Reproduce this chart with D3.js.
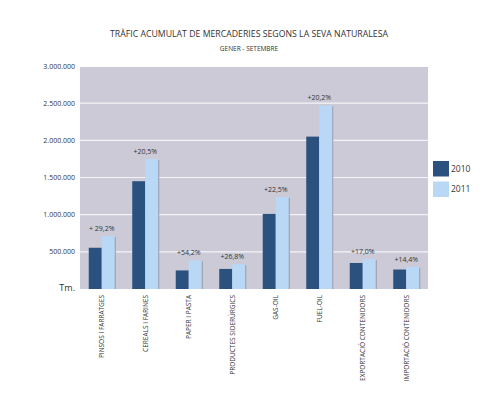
<!DOCTYPE html>
<html>
<head>
<meta charset="utf-8">
<script src="https://cdn.jsdelivr.net/npm/d3@7"></script>
<style>
  body { margin: 0; background: #fff; }
  text { font-family: "Open Sans", "DejaVu Sans", sans-serif; fill: #333; }
</style>
</head>
<body>
<div id="chart"></div>
<script>
var categories = ["PINSOS I FARRATGES", "CEREALS I FARINES", "PAPER I PASTA", "PRODUCTES SIDERÚRGICS",
  "GAS-OIL", "FUEL-OIL", "EXPORTACIÓ CONTENIDORS", "IMPORTACIÓ CONTENIDORS"];
var values2010 = [555000, 1450000, 250000, 270000, 1010000, 2050000, 350000, 262000];
var values2011 = [712000, 1748000, 385000, 333000, 1238000, 2470000, 402000, 298000];
var changes = ["+ 29,2%", "+20,5%", "+54,2%", "+26,8%", "+22,5%", "+20,2%", "+17,0%", "+14,4%"];
var yTicks = [500000, 1000000, 1500000, 2000000, 2500000, 3000000];
var series = ["2010", "2011"];
var colors = ["#2b527e", "#b9d8f6"];

var width = 500, height = 396;
var margin = {left: 80, right: 72, top: 66, bottom: 107};

var svg = d3.select("#chart").append("svg").attr("width", width).attr("height", height);

var x = d3.scaleBand().domain(categories).range([margin.left, width - margin.right]);
var y = d3.scaleLinear().domain([0, 3000000]).range([height - margin.bottom, margin.top]);

// plot background
svg.append("rect")
  .attr("x", margin.left).attr("y", y(3000000) + 1)
  .attr("width", width - margin.right - margin.left)
  .attr("height", y(0) - y(3000000) - 1)
  .attr("fill", "#cbcad6");

// grid
svg.append("g").selectAll("line").data(yTicks.slice(0, -1)).enter().append("line")
  .attr("x1", margin.left).attr("x2", width - margin.right)
  .attr("y1", function(d) { return y(d); }).attr("y2", function(d) { return y(d); })
  .attr("stroke", "#f4f4f8").attr("stroke-width", 1.2);

// y axis labels
var fmt = function(d) { return d3.format(",")(d).replace(/,/g, "."); };
svg.append("g").selectAll("text").data(yTicks).enter().append("text")
  .attr("x", 75).attr("y", function(d) { return y(d) + 2.5; })
  .attr("text-anchor", "end").attr("font-size", "7px")
  .text(fmt);
svg.append("text").attr("x", 75).attr("y", 291).attr("text-anchor", "end")
  .attr("font-size", "9px").text("Tm.");

// bars
var bw = 13;
var bars = svg.append("g");
categories.forEach(function(c, i) {
  var cx = x(c) + x.bandwidth() / 2;
  [values2010[i], values2011[i]].forEach(function(v, j) {
    var bx = cx - bw + j * bw;
    if (j == 1) {
      bars.append("rect").attr("x", bx + 1).attr("y", y(v) + 1).attr("width", bw)
        .attr("height", y(0) - y(v) - 1).attr("fill", "#9a9aa8");
    }
    bars.append("rect").attr("x", bx).attr("y", y(v)).attr("width", bw)
      .attr("height", y(0) - y(v)).attr("fill", colors[j]);
  });
  bars.append("text").attr("x", cx).attr("y", y(values2011[i]) - 5)
    .attr("text-anchor", "middle").attr("font-size", "7px").text(changes[i]);
});

// x labels
svg.append("g").selectAll("text").data(categories).enter().append("text")
  .attr("transform", function(d) { return "translate(" + (x(d) + x.bandwidth() / 2 + 2.5) + ",295) rotate(-90)"; })
  .attr("text-anchor", "end").attr("font-size", "6.5px")
  .text(function(d) { return d; });

// legend
series.forEach(function(s, i) {
  svg.append("rect").attr("x", 433).attr("y", 161 + i * 20.5).attr("width", 16).attr("height", 15.5)
    .attr("fill", colors[i]);
  svg.append("text").attr("x", 451).attr("y", 171.5 + i * 20.5).attr("font-size", "8.5px").text(s);
});

// titles
svg.append("text").attr("x", 249).attr("y", 37).attr("text-anchor", "middle")
  .attr("font-size", "9.5px").attr("textLength", 278).attr("lengthAdjust", "spacingAndGlyphs")
  .text("TRÀFIC ACUMULAT DE MERCADERIES SEGONS LA SEVA NATURALESA");
svg.append("text").attr("x", 249).attr("y", 51).attr("text-anchor", "middle")
  .attr("font-size", "6.5px").text("GENER - SETEMBRE");
</script>
</body>
</html>
